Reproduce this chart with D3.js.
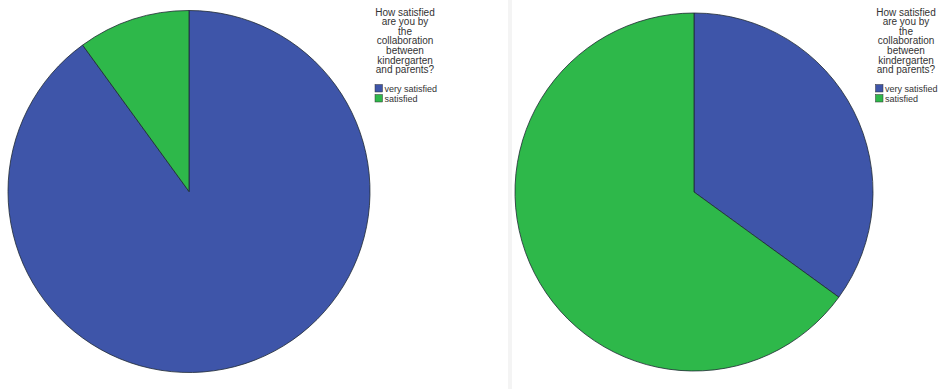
<!DOCTYPE html>
<html><head><meta charset="utf-8">
<script src="https://cdn.jsdelivr.net/npm/d3@7"></script>
<style>body{margin:0;background:#fff}svg{display:block}</style>
</head><body>
<svg id="c" width="942" height="389"></svg>
<script>
const categories = ["very satisfied", "satisfied"];
const leftValues = [18, 2];
const rightValues = [7, 13];
const titleLines = ["How satisfied", "are you by", "the", "collaboration", "between", "kindergarten", "and parents?"];
const colors = ["#3E55A9", "#2EB84A"];

const svg = d3.select("#c");
svg.append("rect").attr("x", 508).attr("y", 0).attr("width", 4).attr("height", 389).attr("fill", "#f4f4f4");

const color = d3.scaleOrdinal().domain(categories).range(colors);

function drawPanel(values, cx, cy, r, lx, tx) {
  const data = categories.map((c, i) => ({cat: c, v: values[i]}));
  const pie = d3.pie().value(d => d.v).sort(null);
  const arc = d3.arc().innerRadius(0).outerRadius(r);
  const g = svg.append("g").attr("transform", `translate(${cx},${cy})`);
  g.selectAll("path").data(pie(data)).join("path")
    .attr("d", arc).attr("fill", d => color(d.data.cat))
    .attr("stroke", "#1f2a33").attr("stroke-width", 0.8);
  const lg = svg.append("g").attr("font-family", "Arial, 'Liberation Sans', sans-serif").attr("fill", "#333");
  lg.selectAll("text.t").data(titleLines).join("text").attr("class", "t")
    .attr("font-size", 10)
    .attr("x", tx).attr("y", (d, i) => 15.5 + i * 9.65).attr("text-anchor", "middle").text(d => d);
  const items = lg.selectAll("g.i").data(categories).join("g").attr("class", "i")
    .attr("transform", (d, i) => `translate(${lx},${84.5 + i * 10})`);
  items.append("rect").attr("width", 7.5).attr("height", 7.5).attr("fill", d => color(d)).attr("stroke", "#333").attr("stroke-width", 0.5);
  items.append("text").attr("font-size", 9).attr("x", 9.5).attr("y", 7.5).text(d => d);
}

drawPanel(leftValues, 189, 191.5, 181, 375, 405);
drawPanel(rightValues, 694, 192, 179, 875.5, 906);
</script>
</body></html>
